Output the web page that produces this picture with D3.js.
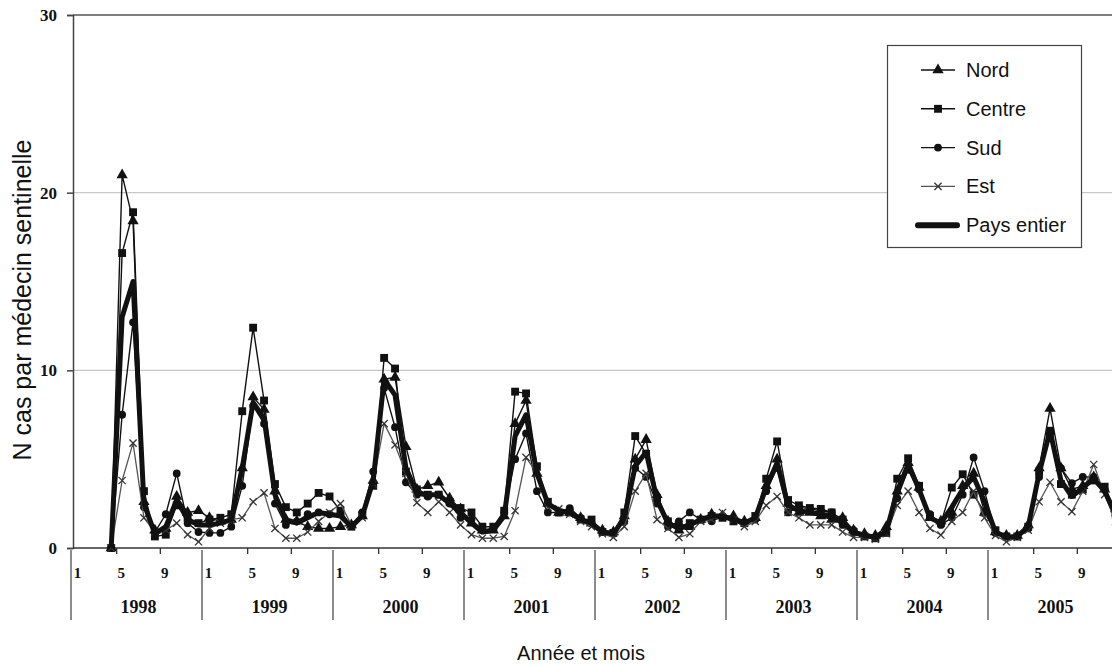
<!DOCTYPE html>
<html>
<head>
<meta charset="utf-8">
<script src="https://cdn.jsdelivr.net/npm/d3@7"></script>
<style>
  body { margin: 0; background: #fff; }
  svg { display: block; }
</style>
</head>
<body>
<div id="chart"></div>
<script>
/** --- DATA --- */

const years = [1998, 1999, 2000, 2001, 2002, 2003, 2004, 2005];
const monthLabels = [1, 5, 9];
const yTicks = [0, 10, 20, 30];
const firstMonth = 3; // series start in april 1998

const nord = [
  0, 21.0, 18.4, 2.6, 1.0, 1.1, 2.9, 2.0, 2.1,
  1.7, 1.5, 1.6, 4.5, 8.5, 7.8, 3.2, 1.6, 1.5, 1.2, 1.1, 1.1,
  1.2, 1.3, 1.8, 3.8, 9.5, 9.6, 5.7, 3.3, 3.5, 3.7, 2.8, 2.2,
  1.4, 1.0, 1.0, 1.8, 7.0, 8.3, 4.2, 2.5, 2.0, 2.0, 1.7, 1.4,
  1.0, 0.9, 1.8, 5.0, 6.1, 3.0, 1.5, 1.0, 1.2, 1.6, 1.9, 1.8,
  1.8, 1.5, 1.7, 3.5, 5.0, 2.5, 2.0, 2.0, 1.8, 1.6, 1.7, 1.0,
  0.8, 0.7, 1.2, 3.2, 4.8, 3.4, 1.7, 1.5, 2.0, 3.5, 4.2, 2.0,
  0.9, 0.7, 0.7, 1.3, 4.5, 7.85, 4.5, 3.3, 3.5, 4.0, 3.3, 2.2
];
const centre = [
  0, 16.6, 18.9, 3.2, 0.65, 0.75, 2.4, 1.7, 1.4,
  1.6, 1.7, 1.9, 7.7, 12.4, 8.3, 3.6, 2.3, 2.0, 2.5, 3.1, 2.9,
  2.1, 1.2, 1.85, 3.5, 10.7, 10.1, 4.3, 3.3, 3.0, 3.0, 2.6, 2.25,
  2.0, 1.2, 1.2, 2.1, 8.8, 8.7, 4.6, 2.6, 2.0, 2.0, 1.6, 1.6,
  0.9, 0.85, 2.0, 6.3, 5.3, 2.8, 1.5, 1.2, 1.4, 1.6, 1.8, 1.7,
  1.5, 1.4, 1.8, 3.9, 6.0, 2.7, 2.4, 2.25, 2.2, 2.0, 1.6, 0.9,
  0.65, 0.55, 0.85, 3.9, 5.05, 3.5, 1.8, 1.4, 3.4, 4.15, 3.0, 2.0,
  1.0, 0.65, 0.65, 1.2, 4.3, 6.6, 3.6, 3.0, 3.3, 3.8, 3.45, 2.0
];
const sud = [
  0, 7.5, 12.7, 2.3, 0.9, 1.9, 4.2, 1.4, 0.9,
  0.85, 0.85, 1.2, 3.5, 8.0, 7.0, 2.5, 1.3, 1.5, 1.9, 2.0, 1.9,
  1.9, 1.3, 2.0, 4.3, 9.0, 6.8, 3.7, 3.0, 2.9, 3.0, 2.5, 1.7,
  1.6, 1.0, 1.1, 2.0, 5.0, 6.45, 3.2, 2.0, 2.0, 2.25, 1.7, 1.4,
  0.9, 0.8, 1.5, 4.5, 4.0, 2.5, 1.2, 1.5, 2.0, 1.6, 1.5, 1.8,
  1.6, 1.4, 1.6, 3.2, 4.5, 2.0, 2.3, 2.2, 2.1, 2.0, 1.3, 1.0,
  0.7, 0.6, 1.0, 2.8, 4.4, 3.3, 1.9, 1.3, 1.7, 3.0, 5.1, 3.2,
  0.85, 0.65, 0.65, 1.1, 4.0, 6.4, 4.5, 3.65, 4.0, 4.0, 3.3, 1.8
];
const est = [
  0, 3.8, 5.9, 1.7, 0.9, 1.0, 1.4, 0.75, 0.35,
  1.1, 1.4, 1.6, 1.7, 2.6, 3.1, 1.1, 0.55, 0.55, 0.9, 1.5, 2.0,
  2.5, 1.3, 1.7, 3.6, 7.0, 5.8, 4.2, 2.55, 2.0, 2.6, 2.0, 1.3,
  0.75, 0.55, 0.55, 0.65, 2.1, 5.1, 4.2, 2.3, 2.2, 1.9, 1.5, 1.2,
  0.8, 0.6, 1.2, 3.2, 4.2, 1.6, 1.1, 0.6, 0.8, 1.5, 1.6, 2.0,
  1.6, 1.2, 1.5, 2.4, 2.9, 2.0, 1.7, 1.3, 1.3, 1.3, 0.9, 0.6,
  0.6, 0.5, 0.8, 2.4, 3.2, 2.0, 1.1, 0.73, 1.5, 2.0, 3.2, 1.7,
  0.7, 0.35, 0.6, 1.0, 2.6, 3.7, 2.6, 2.05, 3.2, 4.7, 3.0, 1.5
];
const pays = [
  0, 13.0, 15.0, 2.5, 0.8, 1.2, 2.7, 1.6, 1.3,
  1.3, 1.4, 1.6, 4.5, 8.2, 7.3, 3.0, 1.6, 1.4, 1.7, 2.0, 1.9,
  1.8, 1.2, 1.8, 3.8, 9.5, 8.6, 4.5, 3.1, 3.0, 3.0, 2.5, 2.0,
  1.4, 0.9, 1.0, 1.8, 6.3, 7.5, 4.2, 2.5, 2.1, 2.0, 1.6, 1.4,
  0.9, 0.8, 1.7, 4.6, 5.4, 2.7, 1.4, 1.1, 1.3, 1.6, 1.8, 1.8,
  1.6, 1.4, 1.7, 3.4, 4.8, 2.4, 2.1, 2.0, 1.9, 1.8, 1.4, 0.9,
  0.7, 0.6, 0.9, 3.2, 4.7, 3.3, 1.7, 1.4, 2.3, 3.3, 4.0, 2.6,
  0.9, 0.6, 0.65, 1.2, 4.2, 6.6, 3.8, 2.9, 3.4, 3.9, 3.2, 1.9
];

const seriesNames = ['Nord', 'Centre', 'Sud', 'Est', 'Pays entier'];

/** --- DIMENSIONS --- */

const width = 1112;
const height = 666;
const plotLeft = 73;
const plotRight = 1121; // last year runs past the picture edge
const plotTop = 15;
const plotBottom = 548;

const serif = '"Liberation Serif", "Times New Roman", serif';
const sans = '"Liberation Sans", Arial, sans-serif';

const svg = d3.select('#chart')
  .append('svg')
  .attr('width', width)
  .attr('height', height);

/** --- SCALES --- */

const x = d3.scaleLinear()
  .domain([0, years.length * 12])
  .range([plotLeft, plotRight]);

const y = d3.scaleLinear()
  .domain([0, 30])
  .range([plotBottom, plotTop]);

/** --- GRID + AXES --- */

svg.append('g')
  .selectAll('line')
  .data([10, 20])
  .join('line')
  .attr('x1', plotLeft)
  .attr('x2', plotRight)
  .attr('y1', d => y(d))
  .attr('y2', d => y(d))
  .attr('stroke', '#c8c8c8')
  .attr('stroke-width', 1.2);

// frame top
svg.append('line')
  .attr('x1', plotLeft).attr('x2', plotRight)
  .attr('y1', y(30)).attr('y2', y(30))
  .attr('stroke', '#555')
  .attr('stroke-width', 1.5);

const yAxis = svg.append('g')
  .attr('transform', `translate(${plotLeft},0)`)
  .call(d3.axisLeft(y).tickValues(yTicks).tickSize(6).tickPadding(10));

yAxis.select('.domain').attr('stroke', '#444').attr('stroke-width', 1.5);
yAxis.selectAll('.tick line').attr('stroke', '#444').attr('stroke-width', 1.5);
yAxis.selectAll('.tick text')
  .attr('font-family', serif)
  .attr('font-weight', 'bold')
  .attr('font-size', 17)
  .attr('fill', '#111');

// x axis line
svg.append('line')
  .attr('x1', plotLeft).attr('x2', plotRight)
  .attr('y1', plotBottom).attr('y2', plotBottom)
  .attr('stroke', '#333')
  .attr('stroke-width', 1.5);

const quarterTicks = d3.range(0, years.length * 12 + 1, 4).filter(m => m % 12 !== 0);

svg.append('g')
  .selectAll('line')
  .data(quarterTicks)
  .join('line')
  .attr('x1', d => x(d)).attr('x2', d => x(d))
  .attr('y1', plotBottom).attr('y2', plotBottom + 6)
  .attr('stroke', '#333')
  .attr('stroke-width', 1.3);

svg.append('g')
  .selectAll('line')
  .data(d3.range(0, years.length + 1))
  .join('line')
  .attr('x1', d => x(d * 12) - 2).attr('x2', d => x(d * 12) - 2)
  .attr('y1', plotBottom + 2).attr('y2', 620)
  .attr('stroke', '#666')
  .attr('stroke-width', 1.5);

const monthData = [];
years.forEach((yr, yi) => {
  monthLabels.forEach(m => monthData.push({ idx: yi * 12 + m - 1, label: m }));
});

svg.append('g')
  .selectAll('text')
  .data(monthData)
  .join('text')
  .attr('x', d => x(d.idx + 0.5) - 1)
  .attr('y', 573)
  .attr('text-anchor', 'middle')
  .attr('dominant-baseline', 'central')
  .attr('font-family', serif)
  .attr('font-weight', 'bold')
  .attr('font-size', 15)
  .attr('fill', '#111')
  .text(d => d.label);

svg.append('g')
  .selectAll('text')
  .data(years)
  .join('text')
  .attr('x', (d, i) => x(i * 12 + 6))
  .attr('y', 607)
  .attr('text-anchor', 'middle')
  .attr('dominant-baseline', 'central')
  .attr('font-family', serif)
  .attr('font-weight', 'bold')
  .attr('font-size', 18)
  .attr('fill', '#111')
  .text(d => d);

svg.append('text')
  .attr('x', 581)
  .attr('y', 653)
  .attr('text-anchor', 'middle')
  .attr('dominant-baseline', 'central')
  .attr('font-family', sans)
  .attr('font-size', 20)
  .attr('fill', '#111')
  .text('Année et mois');

svg.append('text')
  .attr('transform', 'translate(31,300) rotate(-90)')
  .attr('text-anchor', 'middle')
  .attr('font-family', sans)
  .attr('font-size', 25)
  .attr('fill', '#111')
  .text('N cas par médecin sentinelle');

/** --- SERIES --- */

const line = d3.line()
  .x((d, i) => x(firstMonth + i + 0.5))
  .y(d => y(d));

const triangle = d3.symbol().type(d3.symbolTriangle).size(55);
const square = d3.symbol().type(d3.symbolSquare).size(62);

function crossPath(s) {
  return `M${-s},${-s}L${s},${s}M${-s},${s}L${s},${-s}`;
}

function drawSeries(values, color, widthPx, marker) {
  const g = svg.append('g');
  g.append('path')
    .datum(values)
    .attr('fill', 'none')
    .attr('stroke', color)
    .attr('stroke-width', widthPx)
    .attr('stroke-linejoin', 'round')
    .attr('d', line);

  if (!marker) return;
  const pts = g.selectAll('.pt')
    .data(values)
    .join(marker === 'circle' ? 'circle' : 'path')
    .attr('class', 'pt');

  if (marker === 'circle') {
    pts.attr('cx', (d, i) => x(firstMonth + i + 0.5))
      .attr('cy', d => y(d))
      .attr('r', 3.9)
      .attr('fill', '#111');
  } else {
    pts.attr('transform', (d, i) => `translate(${x(firstMonth + i + 0.5)},${y(d)})`);
    if (marker === 'triangle') pts.attr('d', triangle).attr('fill', '#111');
    if (marker === 'square') pts.attr('d', square).attr('fill', '#111');
    if (marker === 'cross') {
      pts.attr('d', crossPath(3.6))
        .attr('fill', 'none')
        .attr('stroke', '#333')
        .attr('stroke-width', 1.3);
    }
  }
}

drawSeries(nord, '#111', 1.4, 'triangle');
drawSeries(centre, '#111', 1.4, 'square');
drawSeries(sud, '#111', 1.4, 'circle');
drawSeries(est, '#555', 1.3, 'cross');
drawSeries(pays, '#111', 5, null);

/** --- LEGEND --- */

const legend = svg.append('g');

legend.append('rect')
  .attr('x', 887.5)
  .attr('y', 45.5)
  .attr('width', 194)
  .attr('height', 202)
  .attr('fill', '#fff')
  .attr('stroke', '#444')
  .attr('stroke-width', 1.2);

const legendMarkers = ['triangle', 'square', 'circle', 'cross', null];

seriesNames.forEach((name, i) => {
  const ly = 70 + i * 38.8;
  const row = legend.append('g').attr('transform', `translate(0,${ly})`);
  const isPays = legendMarkers[i] === null;
  row.append('line')
    .attr('x1', isPays ? 918 : 921)
    .attr('x2', isPays ? 957 : 955)
    .attr('y1', 0).attr('y2', 0)
    .attr('stroke', i === 3 ? '#555' : '#111')
    .attr('stroke-width', isPays ? 6 : 1.4)
    .attr('stroke-linecap', isPays ? 'round' : 'butt');

  const mk = legendMarkers[i];
  if (mk === 'triangle') row.append('path').attr('transform', 'translate(938,0)').attr('d', triangle).attr('fill', '#111');
  if (mk === 'square') row.append('path').attr('transform', 'translate(938,0)').attr('d', square).attr('fill', '#111');
  if (mk === 'circle') row.append('circle').attr('cx', 938).attr('cy', 0).attr('r', 3.9).attr('fill', '#111');
  if (mk === 'cross') {
    row.append('path').attr('transform', 'translate(938,0)')
      .attr('d', crossPath(3.6)).attr('fill', 'none')
      .attr('stroke', '#333').attr('stroke-width', 1.3);
  }

  row.append('text')
    .attr('x', 966)
    .attr('y', 0)
    .attr('dominant-baseline', 'central')
    .attr('font-family', sans)
    .attr('font-size', 20)
    .attr('fill', '#111')
    .text(name);
});
</script>
</body>
</html>
